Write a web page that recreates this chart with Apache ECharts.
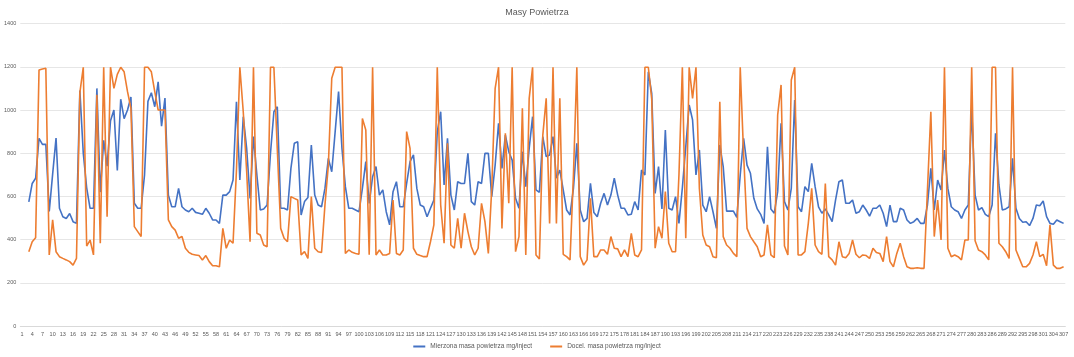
<!DOCTYPE html>
<html>
<head>
<meta charset="utf-8">
<script src="https://cdn.jsdelivr.net/npm/echarts@6/dist/echarts.min.js"></script>
<style>html,body{margin:0;padding:0;background:#fff}#c{width:1074px;height:357px}</style>
</head>
<body>
<div id="c"></div>
<script>
const categories = [];
for (let i = 1; i <= 307; i++) categories.push(String(i));

const measured = [null,null,575,660,684,869,841,841,530,703,870,545,506,498,521,483,475,1090,800,640,
545,545,1100,620,860,740,950,1000,720,1050,960,1000,1060,568,545,545,700,1040,1080,1015,
1130,925,1055,605,552,552,637,552,537,529,545,526,522,517,545,522,491,491,475,606,
606,622,676,1038,676,969,822,591,877,699,537,542,560,800,992,1015,545,545,537,730,
846,853,514,576,595,838,606,560,552,637,776,714,900,1085,822,645,545,545,537,529,
637,761,568,691,738,606,630,529,468,622,668,552,552,660,761,792,637,560,552,506,
545,583,900,992,653,869,606,537,668,660,660,799,576,560,668,660,799,799,599,745,
938,730,884,807,768,591,545,807,645,822,969,630,619,877,784,792,877,684,722,630,
537,514,637,846,537,483,498,660,525,506,568,614,560,606,684,606,545,545,514,517,
576,537,722,699,1177,1077,614,738,542,907,545,537,599,475,640,830,1023,954,699,815,
560,529,599,529,452,838,738,532,532,532,503,699,869,745,707,591,542,517,475,830,
542,522,622,938,576,537,637,1046,552,529,645,622,753,645,552,522,542,514,483,583,
668,676,568,568,583,522,529,560,537,509,545,545,560,522,460,560,483,483,545,537,
491,475,483,498,475,475,560,730,537,676,630,815,637,552,537,529,498,537,560,1008,
606,537,548,517,506,560,892,653,537,542,552,776,545,498,480,483,465,498,560,557,
579,506,475,471,491,483,475];

const target = [null,null,344,390,409,1185,1190,1193,329,491,344,321,313,306,298,282,313,1080,1198,370,
398,329,1070,383,1198,506,1198,1100,1165,1198,1177,1085,1008,460,437,414,1198,1198,1177,1085,
1000,1000,1000,491,460,444,406,414,360,341,332,329,326,306,326,298,279,279,274,452,
360,398,383,720,1198,992,715,390,1198,429,421,375,367,1198,1198,820,452,406,390,599,
591,583,329,344,313,599,360,344,340,560,745,1147,1198,1198,1198,336,352,341,336,332,
961,907,330,1198,329,352,329,329,336,583,336,329,352,900,822,360,332,326,321,321,
390,468,1198,560,383,846,375,360,498,360,522,437,367,329,360,568,483,336,637,1100,
1198,452,892,568,1198,344,414,1008,329,1054,1198,329,310,884,1054,475,1198,475,1054,332,
321,306,700,1198,321,282,306,591,321,321,352,352,332,414,360,357,321,352,321,429,
329,321,352,1198,1198,1050,360,460,406,622,383,344,344,700,1198,406,1198,1054,1198,637,
421,375,367,321,316,1038,414,375,360,336,321,1198,792,452,414,390,367,321,329,468,
329,316,977,1116,370,329,1139,1198,329,329,344,475,637,375,344,332,660,321,306,282,
390,321,316,336,398,332,316,329,326,313,360,340,336,298,414,298,274,336,383,321,
274,267,267,270,267,267,630,992,414,583,398,1198,360,321,329,321,306,398,398,1198,
395,352,344,329,306,1198,1198,383,367,344,313,1198,352,313,274,274,290,329,390,321,
332,279,468,282,267,267,274];

const yTicks = { min: 0, max: 1400, interval: 200 };
const seriesNames = ['Mierzona masa powietrza mg/inject', 'Docel. masa powietrza mg/inject'];

const txt = '#595959';
const font = 'Liberation Sans';
const chart = echarts.init(document.getElementById('c'), null, { renderer: 'canvas' });
chart.setOption({
  animation: false,
  backgroundColor: '#fff',
  title: { text: 'Masy Powietrza', left: 'center', top: 3,
    textStyle: { fontSize: 9, fontWeight: 'normal', color: txt, fontFamily: font } },
  legend: { bottom: 2, left: 'center', itemWidth: 12, itemHeight: 2, itemGap: 18, icon: 'rect',
    textStyle: { fontSize: 6.5, color: txt, fontFamily: font },
    data: seriesNames },
  grid: { left: 20.3, right: 8.7, top: 23.6, bottom: 31, containLabel: false },
  xAxis: {
    type: 'category', data: categories, boundaryGap: true,
    axisLine: { lineStyle: { color: '#d9d9d9' } },
    axisTick: { show: false },
    axisLabel: { interval: 2, fontSize: 5.5, color: txt, fontFamily: font, margin: 5 }
  },
  yAxis: {
    type: 'value', min: yTicks.min, max: yTicks.max, interval: yTicks.interval,
    axisLine: { show: false }, axisTick: { show: false },
    splitLine: { lineStyle: { color: '#e6e6e6', width: 1 } },
    axisLabel: { fontSize: 5.5, color: txt, fontFamily: font, margin: 4,
      formatter: function (v) { return String(v); } }
  },
  series: [
    { name: seriesNames[0], type: 'line', data: measured, showSymbol: false, symbol: 'none',
      lineStyle: { color: '#4472C4', width: 1.6 }, itemStyle: { color: '#4472C4' } },
    { name: seriesNames[1], type: 'line', data: target, showSymbol: false, symbol: 'none',
      lineStyle: { color: '#ED7D31', width: 1.6 }, itemStyle: { color: '#ED7D31' } }
  ]
});
</script>
</body>
</html>
